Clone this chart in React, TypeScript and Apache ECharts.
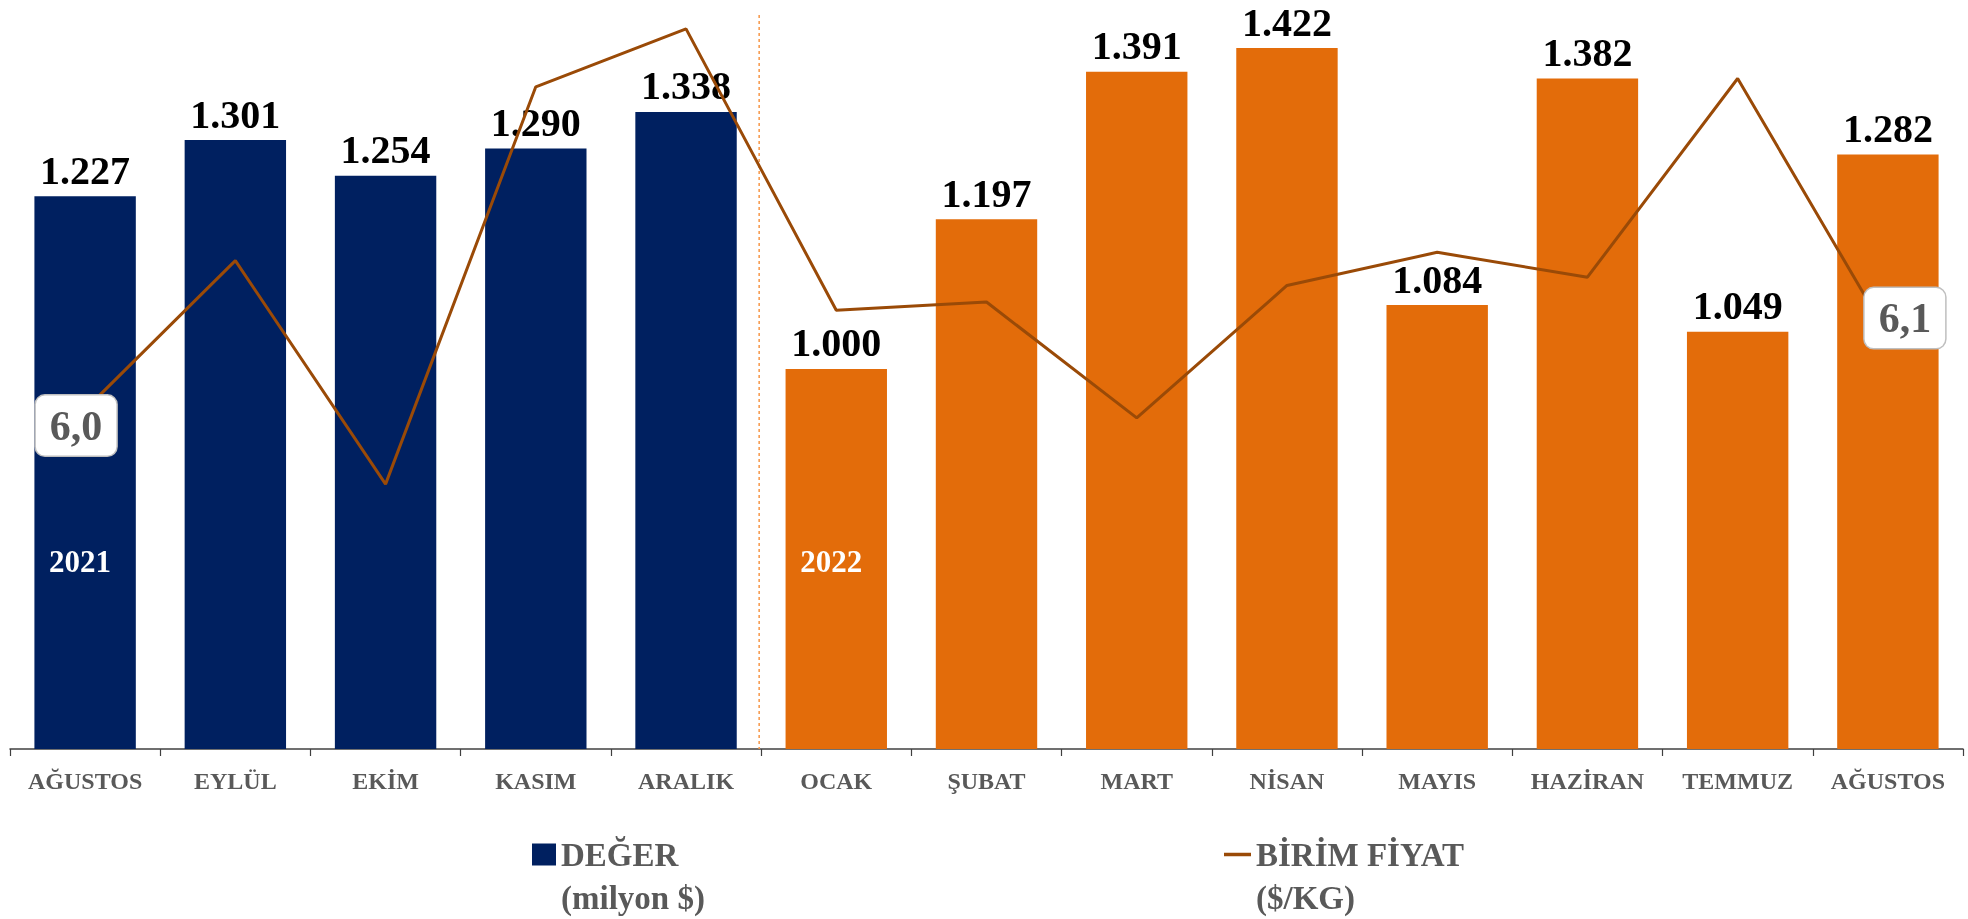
import React, { useEffect, useRef } from "react";
import * as echarts from "echarts";

const categories = ["AĞUSTOS", "EYLÜL", "EKİM", "KASIM", "ARALIK", "OCAK", "ŞUBAT", "MART", "NİSAN", "MAYIS", "HAZİRAN", "TEMMUZ", "AĞUSTOS"];
const valueData = [1227, 1301, 1254, 1290, 1338, 1000, 1197, 1391, 1422, 1084, 1382, 1049, 1282];
const priceData = [6.01, 6.19, 5.92, 6.4, 6.47, 6.13, 6.14, 6.0, 6.16, 6.2, 6.17, 6.41, 6.1];
const yearTexts = ["2021", "2022"];
const yearStartIndex = [0, 5];
const firstYearCount = 5;
const labeledPricePoints = [0, 12];

const NAVY = "#002060";
const ORANGE = "#E36C0A";
const BROWN = "#9A4A07";
const GRAY = "#595959";
const FONT = "'Liberation Serif', serif";

export default function App() {
  const ref = useRef<HTMLDivElement>(null);
  useEffect(() => {
    if (!ref.current) return;
    const chart = echarts.init(ref.current, undefined, { renderer: "svg" });
    const labelOffsets: Record<number, number[]> = { 0: [-9, 16], 12: [17, -17] };
    const legendText = { color: GRAY, fontFamily: FONT, fontWeight: "bold", fontSize: 33, lineHeight: 43 };
    const option: any = {
      animation: false,
      grid: { left: 10, right: 5, top: 4, bottom: 170, containLabel: false },
      legend: [
        {
          data: ["DEĞER"],
          left: 532,
          top: 790,
          padding: 0,
          icon: "rect",
          itemWidth: 24,
          itemHeight: 22,
          formatter: () => "\nDEĞER\n(milyon $)",
          textStyle: legendText,
        },
        {
          data: ["BİRİM FİYAT"],
          left: 1224,
          top: 790,
          padding: 0,
          icon: "rect",
          itemWidth: 27,
          itemHeight: 3.5,
          itemStyle: { color: BROWN },
          formatter: () => "\nBİRİM FİYAT\n($/KG)",
          textStyle: legendText,
        },
      ],
      xAxis: {
        type: "category",
        data: categories,
        boundaryGap: true,
        axisLine: { lineStyle: { color: "#404040", width: 1.5 } },
        axisTick: { show: true, length: 7, lineStyle: { color: "#404040", width: 1.2 } },
        axisLabel: { color: GRAY, fontFamily: FONT, fontWeight: "bold", fontSize: 24, margin: 20, interval: 0 },
      },
      yAxis: [
        { type: "value", min: 500, max: 1480, show: false, splitLine: { show: false } },
        { type: "value", min: 5.6, max: 6.5, show: false, splitLine: { show: false } },
      ],
      series: [
        {
          name: "DEĞER",
          type: "bar",
          barWidth: "67.5%",
          itemStyle: { color: NAVY },
          data: valueData.map((v, i) => ({ value: v, itemStyle: { color: i < firstYearCount ? NAVY : ORANGE } })),
          label: {
            show: true,
            position: "top",
            distance: 6,
            color: "#000",
            fontFamily: FONT,
            fontWeight: "bold",
            fontSize: 40,
            formatter: (p: any) => (p.value / 1000).toFixed(3),
          },
        },
        {
          name: "BİRİM FİYAT",
          type: "line",
          yAxisIndex: 1,
          symbol: "circle",
          symbolSize: 0,
          showSymbol: true,
          z: 5,
          lineStyle: { color: BROWN, width: 3 },
          itemStyle: { color: BROWN },
          data: priceData.map((v, i) =>
            labeledPricePoints.includes(i)
              ? {
                  value: v,
                  label: {
                    show: true,
                    position: "inside",
                    offset: labelOffsets[i],
                    formatter: (p: any) => Number(p.value).toFixed(1).replace(".", ","),
                    color: GRAY,
                    fontFamily: FONT,
                    fontWeight: "bold",
                    fontSize: 42,
                    lineHeight: 42,
                    backgroundColor: "#fff",
                    borderColor: "#BFBFBF",
                    borderWidth: 1.5,
                    borderRadius: 9,
                    padding: [9, 14, 9, 14],
                  },
                }
              : { value: v }
          ),
        },
      ],
    };
    chart.setOption(option);

    const px = (i: number) => chart.convertToPixel({ xAxisIndex: 0 }, i) as number;
    const axisY = chart.convertToPixel({ yAxisIndex: 0 }, 500) as number;
    const sepX = (px(firstYearCount - 1) + px(firstYearCount)) / 2;
    const graphics: any[] = [
      {
        type: "line",
        shape: { x1: sepX - 2, y1: 15, x2: sepX - 2, y2: axisY },
        style: { stroke: "#F79646", lineWidth: 1.5, lineDash: [3, 3] },
        z: 1,
      },
      ...yearTexts.map((t, k) => ({
        type: "text",
        x: px(yearStartIndex[k]) - 5,
        y: 561,
        z: 10,
        style: {
          text: t,
          fill: "#fff",
          font: `bold 31px ${FONT}`,
          align: "center",
          verticalAlign: "middle",
        },
      })),
    ];
    chart.setOption({ graphic: graphics });
    return () => chart.dispose();
  }, []);
  return <div ref={ref} style={{ position: "fixed", left: 0, top: 0, width: 1968, height: 919 }} />;
}
